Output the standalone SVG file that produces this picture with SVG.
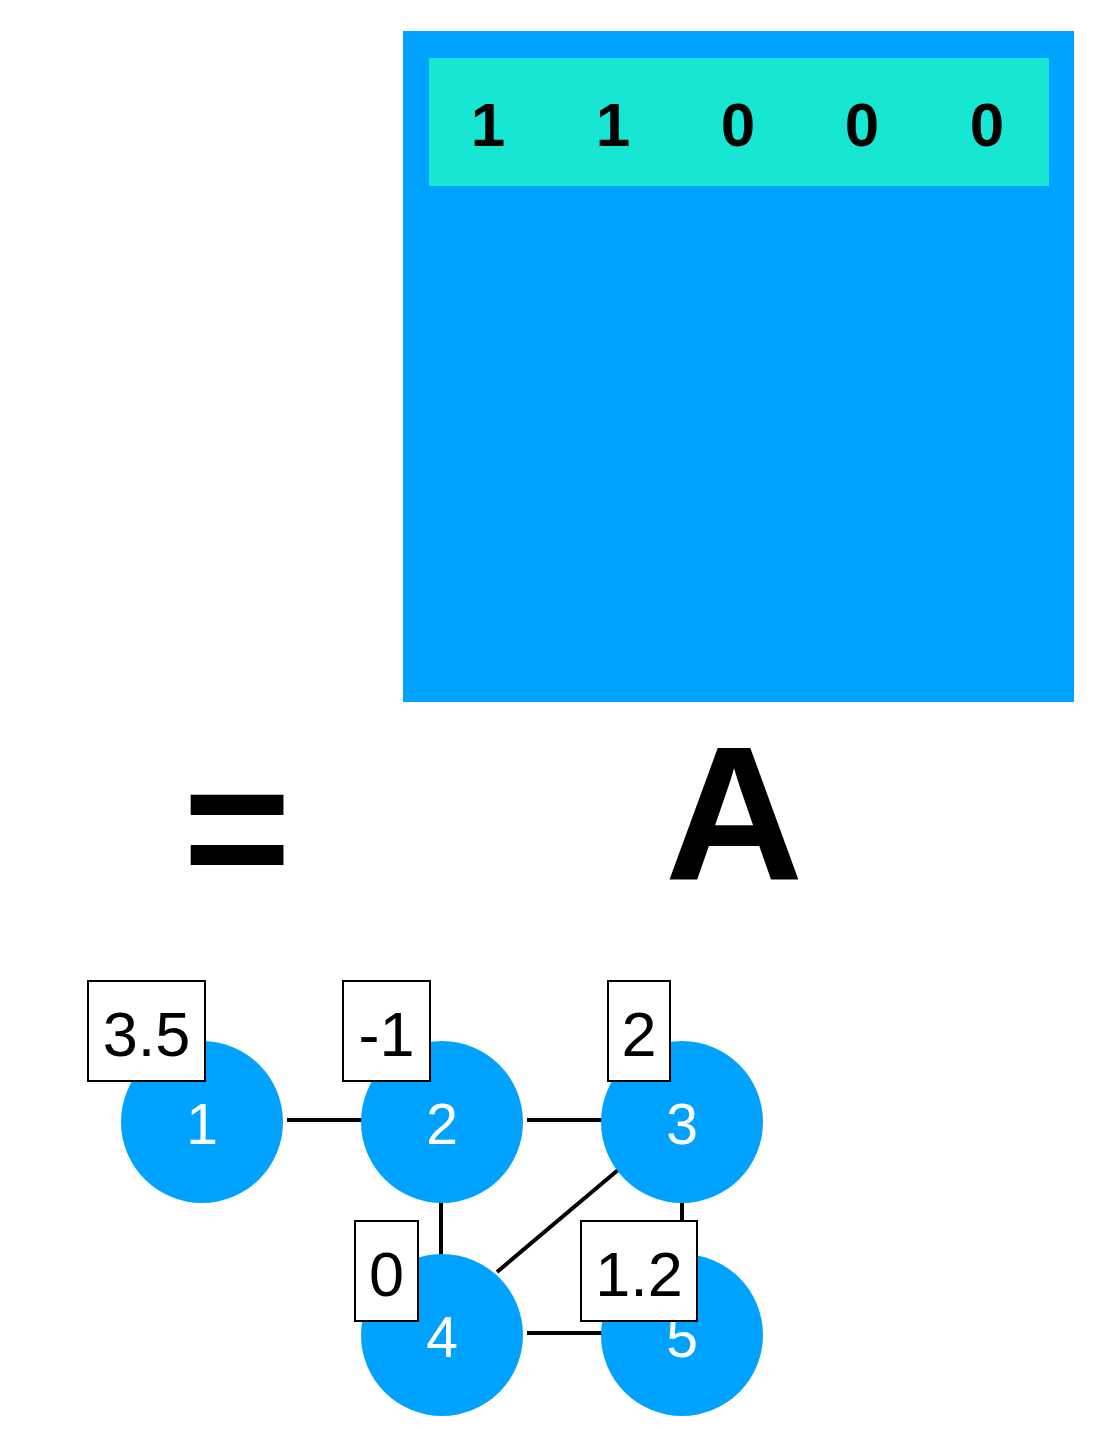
<svg xmlns="http://www.w3.org/2000/svg" width="1106" height="1429" viewBox="0 0 1106 1429">
<style>
.node{fill:#00A2FF}
.nlab{font-family:"Liberation Sans",Arial,sans-serif;font-size:57px;fill:#fff;text-anchor:middle}
.vbox{fill:#fff;stroke:#000;stroke-width:2}
.vlab{font-family:"Liberation Sans",Arial,sans-serif;font-size:63px;fill:#000;text-anchor:middle}
.row{font-family:"Liberation Sans",Arial,sans-serif;font-weight:bold;font-size:62px;fill:#000;text-anchor:middle}
.edge{stroke:#000;stroke-width:4;fill:none}
</style>
<rect width="1106" height="1429" fill="#fff"/>
<g id="matrix">
<rect x="403" y="31" width="671" height="671" fill="#00A2FF"/>
<rect x="429" y="58" width="620" height="128" fill="#17E6D2"/>
<text class="row" x="488" y="146">1</text>
<text class="row" x="613" y="146">1</text>
<text class="row" x="738" y="146">0</text>
<text class="row" x="862" y="146">0</text>
<text class="row" x="987" y="146">0</text>
</g>
<text id="equals" x="237" y="891" font-family="Liberation Sans,Arial,sans-serif" font-weight="bold" font-size="185" text-anchor="middle">=</text>
<text id="labelA" x="734" y="880" font-family="Liberation Sans,Arial,sans-serif" font-weight="bold" font-size="192" text-anchor="middle">A</text>
<g id="connectors">
<line class="edge" x1="287" y1="1120" x2="362" y2="1120"/>
<line class="edge" x1="527" y1="1120" x2="602" y2="1120"/>
<line class="edge" x1="441" y1="1201" x2="441" y2="1256"/>
<line class="edge" x1="618" y1="1170" x2="497" y2="1272"/>
<line class="edge" x1="682" y1="1202" x2="682" y2="1224"/>
<line class="edge" x1="527" y1="1333" x2="602" y2="1333"/>
</g>
<g id="node1">
<circle class="node" cx="202" cy="1122" r="81"/>
<text class="nlab" x="202" y="1144">1</text>
<rect class="vbox" x="88" y="981" width="117" height="100"/>
<text class="vlab" x="146.5" y="1056">3.5</text>
</g>
<g id="node2">
<circle class="node" cx="442" cy="1122" r="81"/>
<text class="nlab" x="442" y="1144">2</text>
<rect class="vbox" x="343" y="981" width="87" height="100"/>
<text class="vlab" x="386.5" y="1056">-1</text>
</g>
<g id="node3">
<circle class="node" cx="682" cy="1122" r="81"/>
<text class="nlab" x="682" y="1144">3</text>
<rect class="vbox" x="608" y="981" width="62" height="100"/>
<text class="vlab" x="639" y="1056">2</text>
</g>
<g id="node4">
<circle class="node" cx="442" cy="1335" r="81"/>
<text class="nlab" x="442" y="1357">4</text>
<rect class="vbox" x="355" y="1221" width="63" height="100"/>
<text class="vlab" x="386.5" y="1296">0</text>
</g>
<g id="node5">
<circle class="node" cx="682" cy="1335" r="81"/>
<text class="nlab" x="682" y="1357">5</text>
<rect class="vbox" x="581" y="1221" width="116" height="100"/>
<text class="vlab" x="639" y="1296">1.2</text>
</g>
</svg>
